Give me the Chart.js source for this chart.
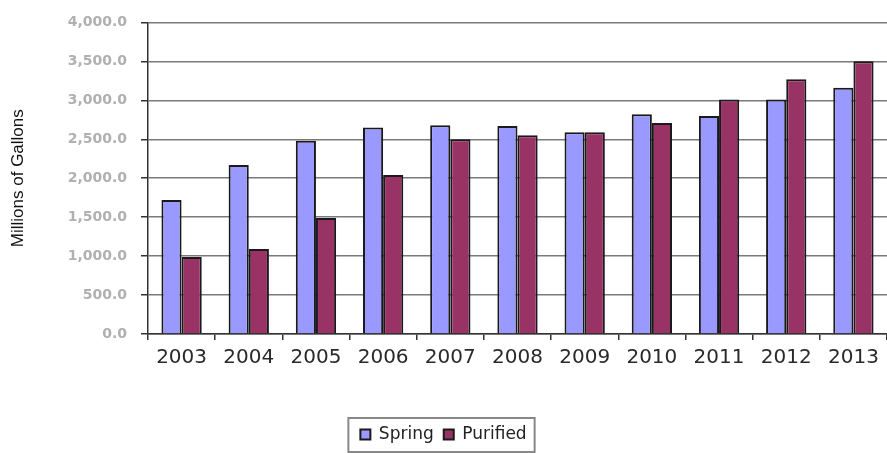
<!DOCTYPE html>
<html>
<head>
<meta charset="utf-8">
<script src="https://cdn.jsdelivr.net/npm/chart.js@4/dist/chart.umd.min.js"></script>
<style>
  html, body { margin: 0; padding: 0; background: #fff; }
  #wrap { width: 887px; height: 453px; }
</style>
</head>
<body>
<div id="wrap"><canvas id="chart"></canvas></div>
<script>
const years = ['2003','2004','2005','2006','2007','2008','2009','2010','2011','2012','2013'];
const spring = [1720, 2170, 2480, 2650, 2680, 2670, 2590, 2820, 2800, 3010, 3160];
const purified = [990, 1090, 1490, 2040, 2500, 2550, 2590, 2710, 3010, 3270, 3500];
const yTicks = [0, 500, 1000, 1500, 2000, 2500, 3000, 3500, 4000];

// border around the legend, like the old spreadsheet chart
const legendBox = {
  id: 'legendBox',
  afterDraw(chart) {
    const boxes = chart.legend.legendHitBoxes;
    if (!boxes || !boxes.length) return;
    const l = Math.min(...boxes.map(b => b.left)) - 12;
    const r = Math.max(...boxes.map(b => b.left + b.width)) + 8;
    const ctx = chart.ctx;
    ctx.save();
    ctx.strokeStyle = '#888';
    ctx.lineWidth = 2;
    ctx.strokeRect(l, 418, r - l, 34);
    ctx.restore();
  }
};

const ctx = document.getElementById('chart').getContext('2d');
new Chart(ctx, {
  type: 'bar',
  data: {
    labels: years,
    datasets: [
      { label: 'Spring', data: spring, backgroundColor: '#9999FF', borderColor: '#1a1a1a', borderWidth: 2, borderSkipped: 'bottom' },
      { label: 'Purified', data: purified, backgroundColor: '#993366', borderColor: '#1a1a1a', borderWidth: 2, borderSkipped: 'bottom' }
    ]
  },
  options: {
    responsive: true,
    maintainAspectRatio: false,
    animation: false,
    layout: { padding: { top: 21, right: 0, left: 0, bottom: 0 } },
    datasets: { bar: { categoryPercentage: 0.6, barPercentage: 1.0 } },
    scales: {
      x: {
        grid: { display: true, drawOnChartArea: false, drawTicks: true, tickLength: 6, color: '#333', lineWidth: 1.5, offset: true },
        border: { color: '#333', width: 1.5 },
        ticks: { color: '#2a2a2a', font: { family: 'DejaVu Sans', size: 20 }, padding: 6, maxRotation: 0 },
        afterFit(s) { s.height = 82; }
      },
      y: {
        min: 0, max: 4000,
        afterBuildTicks(s) { s.ticks = yTicks.map(v => ({ value: v })); },
        grid: { color: '#7a7a7a', lineWidth: 1.5, tickLength: 7, tickColor: '#333' },
        border: { color: '#333', width: 1.5 },
        ticks: {
          color: '#b0b0b0',
          font: { family: 'DejaVu Sans', size: 14, weight: 'bold' },
          padding: 14,
          callback: v => v.toLocaleString('en-US', { minimumFractionDigits: 1, maximumFractionDigits: 1 })
        },
        title: { display: true, text: 'Millions of Gallons', color: '#111', font: { family: 'Liberation Sans', size: 17 }, padding: { top: 8, bottom: 0 } },
        afterFit(s) { s.width = 148; }
      }
    },
    plugins: {
      legend: {
        position: 'bottom',
        labels: { boxWidth: 10, boxHeight: 10, color: '#222', font: { family: 'DejaVu Sans', size: 17 }, padding: 10, useBorderRadius: false }
      },
      tooltip: { enabled: false }
    }
  },
  plugins: [legendBox]
});
</script>
</body>
</html>
